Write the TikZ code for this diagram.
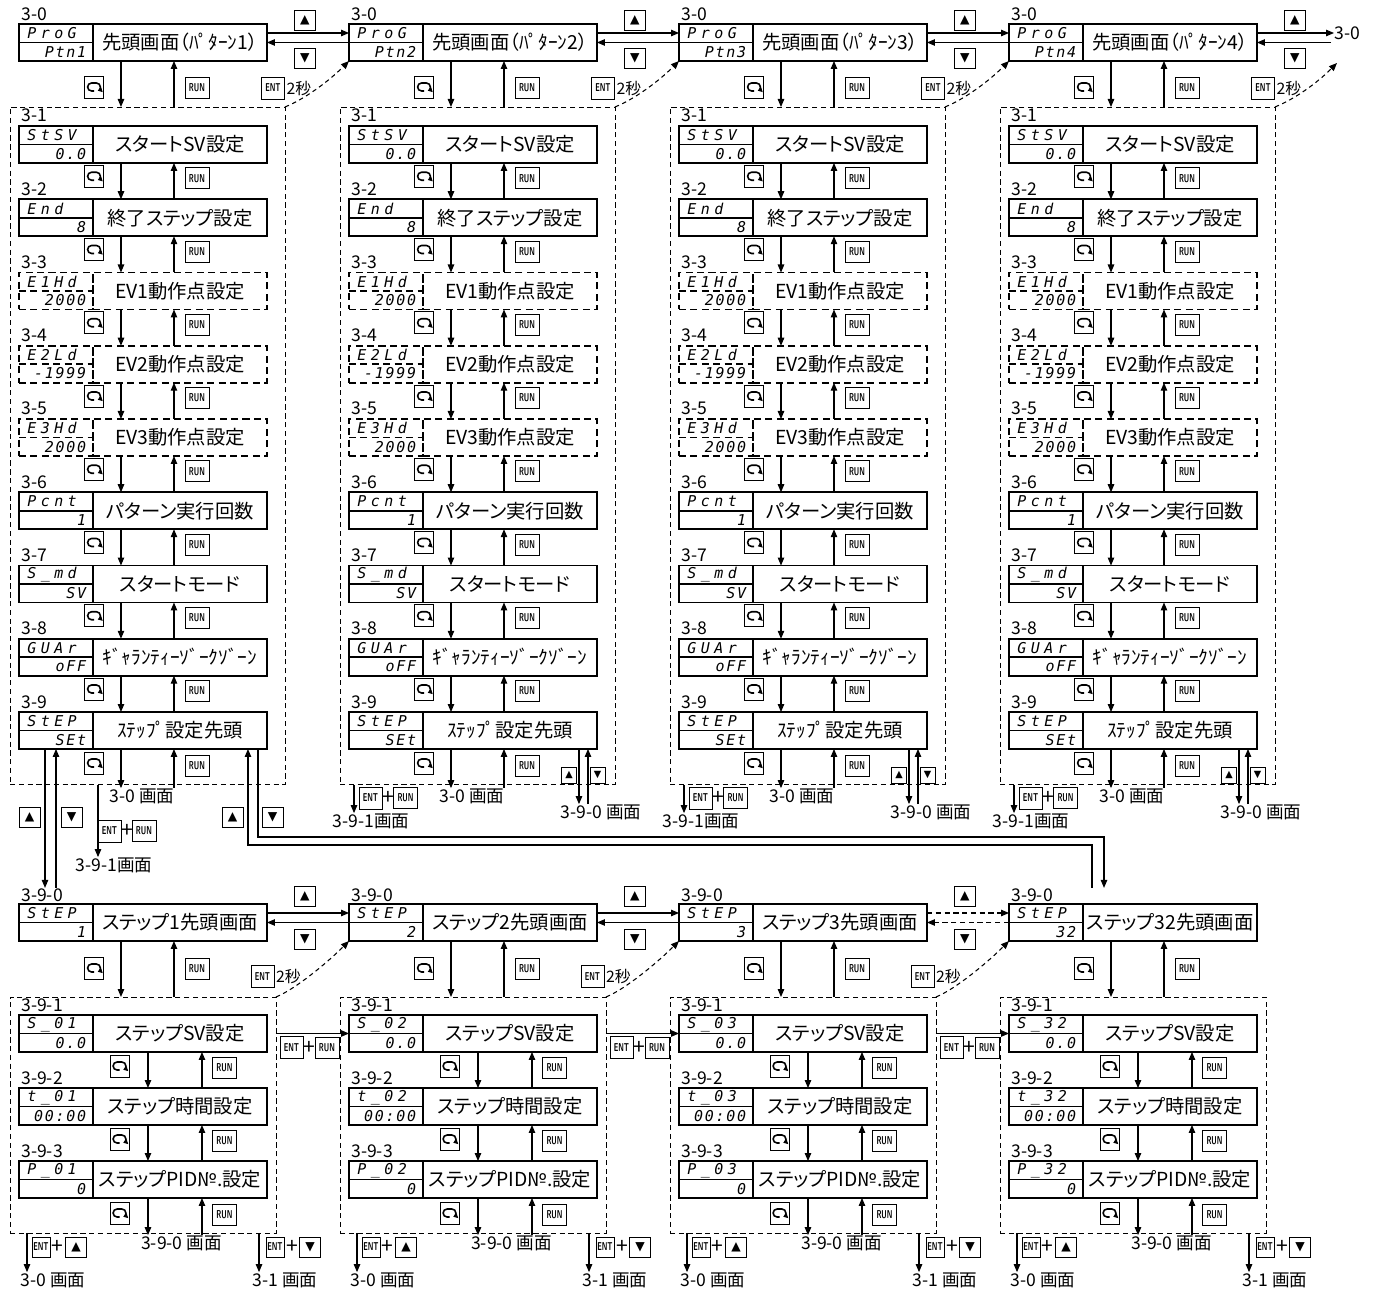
\documentclass[tikz,border=0pt]{standalone}
\usepackage{fontspec}
\usepackage{graphicx}
\setmainfont{Noto Sans CJK JP}[RawFeature=+palt]
\newfontfamily\ledfont{DejaVu Sans Mono}[LetterSpace=30]
\newfontfamily\ledvfont{DejaVu Sans Mono}[LetterSpace=12]
\newfontfamily\symfont{DejaVu Sans}
\usetikzlibrary{arrows.meta,positioning,calc}

% display = LED part + text part
\newcommand{\dispbox}[7][solid]{%
  \node[ledpart,#1] (#2-l) at (#3,#4) {};
  \node[mainpart,#1,right=0pt of #2-l] (#2) {#7};
  \draw[#1,line width=1.1pt] (#2-l.west) -- (#2-l.east);
  \node[ledtop] (#2-u) at (#2-l.north west) {#5};
  \node[ledbot] (#2-d) at (#2-l.south east) {#6};
}
\newcommand{\arrdown}[3]{%
  \path ($(#1)+(#3,0)$) coordinate (tmp);
  \draw[arrow] (tmp) -- (tmp |- #2);
}
\newcommand{\arrup}[3]{%
  \path ($(#1)+(#3,0)$) coordinate (tmp);
  \draw[arrow] (tmp |- #2) -- (tmp);
}
\newcommand{\keytxt}[1]{\scalebox{0.62}[1]{\fontsize{6.5}{7}\sffamily\bfseries #1}}

\begin{document}
\begin{tikzpicture}[x=0.02cm, y=-0.02cm,
    font=\fontsize{11}{13}\selectfont,
    ledpart/.style={draw, line width=1.1pt, minimum width=1.48cm, minimum height=0.74cm, inner sep=0pt, outer sep=0pt, anchor=north west},
    mainpart/.style={draw, line width=1.1pt, minimum width=3.48cm, minimum height=0.74cm, inner sep=0pt, outer sep=0pt},
    dispdash/.style={dash pattern=on 4pt off 2.5pt},
    ledtop/.style={font=\fontsize{8.5}{9}\ledfont\itshape, anchor=west, inner sep=0pt, xshift=0.16cm, yshift=-0.185cm},
    ledbot/.style={font=\fontsize{8.5}{9}\ledvfont\itshape, anchor=east, inner sep=0pt, xshift=-0.13cm, yshift=0.185cm},
    grp/.style={draw, line width=0.5pt, dash pattern=on 3pt off 2pt, inner sep=0pt, outer sep=0pt, anchor=north west},
    key/.style={draw, line width=0.5pt, inner sep=0pt, outer sep=0pt},
    modekey/.style={key, minimum width=0.38cm, minimum height=0.44cm,
      path picture={\draw[line width=0.9pt, -{Triangle[length=2.4pt,width=3.2pt]}]
        ([shift={(0,4)}]path picture bounding box.center) -- ++(-2.4,0)
        arc[start angle=90, end angle=270, radius=4] -- ++(4.8,0)
        arc[start angle=270, end angle=430, radius=4];}},
    runkey/.style={key, minimum width=0.48cm, minimum height=0.42cm},
    entkey/.style={key, minimum width=0.46cm, minimum height=0.44cm},
    entsmall/.style={key, minimum width=0.36cm, minimum height=0.40cm},
    arrkey/.style={key, minimum width=0.42cm, minimum height=0.40cm, font=\fontsize{7}{7}\symfont},
    smallkey/.style={key, minimum width=0.30cm, minimum height=0.32cm, font=\fontsize{5.5}{6}\symfont},
    lbl/.style={anchor=base west, inner sep=0pt, font=\fontsize{10}{12}\selectfont},
    plus/.style={inner sep=0pt, font=\fontsize{12}{12}\selectfont},
    sec/.style={inner sep=0pt, font=\fontsize{9}{10}\selectfont},
    arrow/.style={-{Triangle[length=0.16cm,width=0.13cm]}, line width=0.6pt},
    dasharrow/.style={arrow, dash pattern=on 3pt off 2pt},
    entarrow/.style={arrow, dash pattern=on 2.5pt off 2pt}
]
\useasboundingbox (0,0) rectangle (1389,1293);

% ---- pattern screens 3-0 ... 3-9 ----
\foreach \col in {1,...,4}{
  \pgfmathsetmacro\cx{19+330*(\col-1)}
  \node[lbl] (h\col) at (\cx+2,21) {3-0};
  \dispbox{p\col}{\cx}{24}{ProG}{Ptn\col}{先頭画面（ﾊﾟﾀｰﾝ\col{}）}
  \node[grp, minimum width=5.5cm, minimum height=13.56cm] (g\col) at (\cx-9,107) {};
  \node[modekey] (m\col-0) at (\cx+75,87) {};
  \node[runkey] (u\col-0) at (\cx+178,88) {\keytxt{RUN}};
  \arrdown{p\col.south west}{g\col.north}{28}
  \arrup{p\col.south west}{g\col.north}{81}
  \node[entkey] (e\col-0) at (\cx+254,88) {\keytxt{ENT}};
  \node[sec, right=1pt of e\col-0] (s\col-0) {2秒};
  \foreach \r/\up/\lo/\txt/\st in {1/StSV/0.0/スタートSV設定/solid,
      2/End/8/終了ステップ設定/solid,
      3/E1Hd/2000/EV1動作点設定/dispdash,
      4/E2Ld/-1999/EV2動作点設定/dispdash,
      5/E3Hd/2000/EV3動作点設定/dispdash,
      6/Pcnt/1/パターン実行回数/solid,
      7/S\_md/SV/スタートモード/solid,
      8/GUAr/oFF/ｷﾞｬﾗﾝﾃｨｰｿﾞｰｸｿﾞｰﾝ/solid,
      9/StEP/SEt/ｽﾃｯﾌﾟ設定先頭/solid}{
    \pgfmathsetmacro\ry{126+73.25*(\r-1)}
    \node[lbl] (h\col-\r) at (\cx+2,\ry-4) {3-\r};
    \dispbox[\st]{t\col-\r}{\cx}{\ry}{\up}{\lo}{\txt}
    \ifnum\r>1
      \pgfmathtruncatemacro\rp{\r-1}
      \node[modekey] (m\col-\r) at (\cx+75,\ry-23) {};
      \node[runkey] (u\col-\r) at (\cx+178,\ry-21) {\keytxt{RUN}};
      \arrdown{t\col-\rp.south west}{t\col-\r.north}{28}
      \arrup{t\col-\rp.south west}{t\col-\r.north}{81}
    \fi
  }
  \node[modekey] (m\col-10) at (\cx+75,763) {};
  \node[runkey] (u\col-10) at (\cx+178,766) {\keytxt{RUN}};
  \node[lbl, anchor=center] (ret\col) at (\cx+123,796) {3-0 画面};
  \arrdown{t\col-9.south west}{ret\col.north}{28}
  \arrup{t\col-9.south west}{ret\col.north}{81}
  \ifnum\col>1
    \node[lbl, anchor=center] (sv\col) at (\cx+252,812) {3-9-0 画面};
    \arrdown{t\col-9.south west}{sv\col.north}{156}
    \arrup{t\col-9.south west}{sv\col.north}{165}
    \node[smallkey] (sua\col) at (\cx+220,775) {▲};
    \node[smallkey] (sda\col) at (\cx+248.5,775) {▼};
    \node[lbl, anchor=center] (st\col) at (\cx+22,821) {3-9-1画面};
    \arrdown{g\col.south west}{st\col.north}{14}
    \node[entkey] (e\col-1) at (\cx+21.5,798) {\keytxt{ENT}};
    \node[plus] (pl\col) at (\cx+39,798) {+};
    \node[runkey] (r\col-1) at (\cx+56.5,798) {\keytxt{RUN}};
  \else
    \node[arrkey] (lua) at (29.5,817) {▲};
    \node[arrkey] (lda) at (71.5,817) {▼};
    \node[lbl, anchor=center] (st1) at (114,865) {3-9-1画面};
    \arrdown{g1.south west}{st1.north}{88}
    \node[entkey] (e1-1) at (109.5,831) {\keytxt{ENT}};
    \node[plus] (pl1) at (127,831) {+};
    \node[runkey] (r1-1) at (144,831) {\keytxt{RUN}};
    \node[arrkey] (rua) at (232.5,817) {▲};
    \node[arrkey] (rda) at (272.5,817) {▼};
  \fi
}

% pattern to pattern
\foreach \col/\nx in {1/2,2/3,3/4}{
  \draw[arrow] ($(p\col.north east)+(0,9)$) -- ($(p\nx-l.north west)+(0,9)$);
  \draw[arrow] (p\nx-l.west) -- (p\col.east);
  \node[arrkey] (ua\col) at ($(p\col.north east)+(38,-4)$) {▲};
  \node[arrkey] (da\col) at ($(p\col.north east)+(38,34)$) {▼};
  \draw[entarrow] (g\col.north east) .. controls +(20,-8) and +(-20,20) .. (p\nx-l.south west);
}
\node[lbl, anchor=west] (nx) at (1334,33) {3-0};
\coordinate (nxl) at (1331,42.5);
\coordinate (nxe) at (1337,63);
\path ($(p4.north east)+(0,9)$) coordinate (tmp);
\draw[arrow] (tmp) -- (tmp -| nx.west);
\draw[arrow] (nxl) -- (nxl -| p4.east);
\node[arrkey] (ua4) at ($(p4.north east)+(38,-4)$) {▲};
\node[arrkey] (da4) at ($(p4.north east)+(38,34)$) {▼};
\draw[entarrow] (g4.north east) .. controls +(20,-8) and +(-20,20) .. (nxe);

% ---- step screens 3-9-0 ... 3-9-3 ----
\foreach \col/\sn/\nn in {1/1/01,2/2/02,3/3/03,4/32/32}{
  \pgfmathsetmacro\cx{19+330*(\col-1)}
  \node[lbl] (k\col) at (\cx+2,901) {3-9-0};
  \dispbox{q\col}{\cx}{904}{StEP}{\sn}{ステップ\sn{}先頭画面}
  \node[grp, minimum width=5.32cm, minimum height=4.72cm] (bg\col) at (\cx-9,997) {};
  \node[modekey] (mq\col-0) at (\cx+75,968) {};
  \node[runkey] (uq\col-0) at (\cx+178,969) {\keytxt{RUN}};
  \arrdown{q\col.south west}{bg\col.north}{28}
  \arrup{q\col.south west}{bg\col.north}{81}
  \foreach \r/\pre/\lo/\txt in {1/S\_/0.0/ステップSV設定,
      2/t\_/00:00/ステップ時間設定,
      3/P\_/0/ステップPID№.設定}{
    \pgfmathsetmacro\ry{1015+73*(\r-1)}
    \node[lbl] (k\col-\r) at (\cx+2,\ry-4) {3-9-\r};
    \dispbox{w\col-\r}{\cx}{\ry}{\pre\nn}{\lo}{\txt}
    \ifnum\r>1
      \pgfmathtruncatemacro\rp{\r-1}
      \node[modekey] (mq\col-\r) at (\cx+100.5,\ry-22) {};
      \node[runkey] (uq\col-\r) at (\cx+205.5,\ry-20) {\keytxt{RUN}};
      \arrdown{w\col-\rp.south west}{w\col-\r.north}{55}
      \arrup{w\col-\rp.south west}{w\col-\r.north}{109}
    \fi
  }
  \node[modekey] (mq\col-4) at (\cx+100.5,1213) {};
  \node[runkey] (uq\col-4) at (\cx+205.5,1215) {\keytxt{RUN}};
  \node[lbl, anchor=center] (z\col) at (\cx+162.5,1243) {3-9-0 画面};
  \arrdown{w\col-3.south west}{z\col.north}{55}
  \arrup{w\col-3.south west}{z\col.north}{109}
  % ENT + up / ENT + down
  \node[lbl, anchor=center] (a\col) at (\cx+34,1280) {3-0 画面};
  \arrdown{bg\col.south west}{a\col.north}{17}
  \node[entsmall] (ea\col) at (\cx+22,1247) {\keytxt{ENT}};
  \node[plus] (pa\col) at (\cx+38,1247) {+};
  \node[arrkey] (ka\col) at (\cx+57,1247) {▲};
  \node[lbl, anchor=center] (b\col) at (\cx+266,1280) {3-1 画面};
  \arrdown{bg\col.south west}{b\col.north}{249}
  \node[entsmall] (eb\col) at (\cx+256,1247) {\keytxt{ENT}};
  \node[plus] (pb\col) at (\cx+273,1247) {+};
  \node[arrkey] (kb\col) at (\cx+291,1247) {▼};
}

% step to step
\foreach \col/\nx/\ls in {1/2/arrow,2/3/arrow,3/4/dasharrow}{
  \pgfmathsetmacro\cx{19+330*(\col-1)}
  \draw[\ls] ($(q\col.north east)+(0,9)$) -- ($(q\nx-l.north west)+(0,9)$);
  \draw[\ls] (q\nx-l.west) -- (q\col.east);
  \node[arrkey] (qa\col) at ($(q\col.north east)+(38,-8)$) {▲};
  \node[arrkey] (qd\col) at ($(q\col.north east)+(38,35)$) {▼};
  \node[entkey] (qe\col) at (\cx+243.5,976.5) {\keytxt{ENT}};
  \node[sec, right=1pt of qe\col] (qs\col) {2秒};
  \draw[entarrow] (bg\col.north east) .. controls +(20,-8) and +(-20,20) .. (q\nx-l.south west);
  \draw[arrow] (bg\col.east |- w\nx-1-l.west) -- (w\nx-1-l.west);
  \node[entkey] (we\col) at (\cx+272.5,1047.5) {\keytxt{ENT}};
  \node[plus] (wp\col) at (\cx+290,1047.5) {+};
  \node[runkey] (wr\col) at (\cx+308,1047.5) {\keytxt{RUN}};
}

% step setting head of pattern 1 <-> step screens
\arrdown{t1-9-l.south west}{k1.north}{26}
\arrup{t1-9-l.south west}{k1.north}{37}
\path ($(t1-9.south west)+(165,0)$) coordinate (la);
\coordinate (lb) at (1104,837);
\draw[arrow] (la) |- (lb) -- (lb |- k4.north);
\path ($(t1-9.south west)+(155,0)$) coordinate (lc);
\coordinate (ld) at (1092,845);
\draw[arrow] (ld |- k4.north) -- (ld) -| (lc);

\end{tikzpicture}
\end{document}
